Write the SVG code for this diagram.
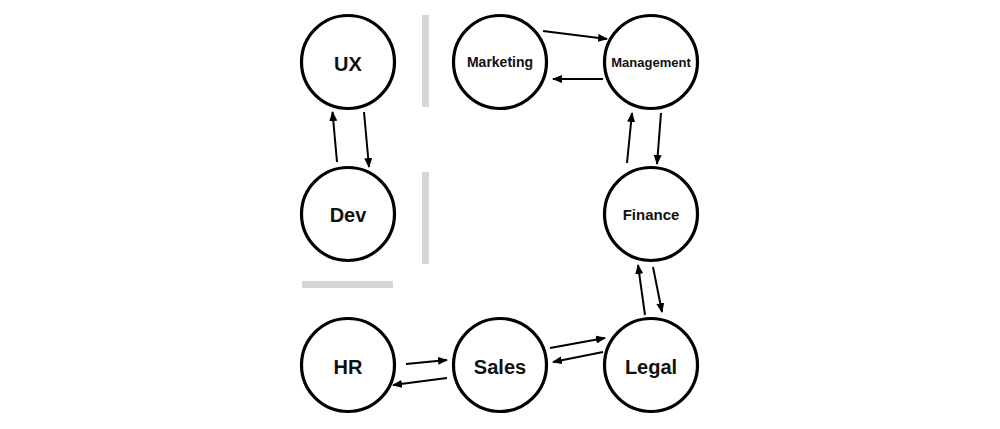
<svg xmlns="http://www.w3.org/2000/svg" width="1000" height="429" viewBox="0 0 1000 429">
<defs>
<style>
.node circle{fill:#fff;stroke:#000;stroke-width:3.2}
.node text{font-family:"Liberation Sans",Arial,sans-serif;font-weight:bold;text-anchor:middle;fill:#111}
.big{font-size:20px}
.small{font-size:14px}
.bar{fill:#d6d6d6}
.edge{stroke:#000;stroke-width:2;fill:none;marker-end:url(#ah)}
</style>
<marker id="ah" markerWidth="10" markerHeight="8" refX="9" refY="4" orient="auto" markerUnits="userSpaceOnUse">
<path d="M0,0 L10,4 L0,8 Z" fill="#000"/>
</marker>
</defs>
<rect width="1000" height="429" fill="#fff"/>
<g id="separators">
<rect class="bar" x="422" y="15" width="7" height="92"/>
<rect class="bar" x="422" y="172" width="7" height="92"/>
<rect class="bar" x="302" y="281" width="91" height="7"/>
</g>
<g id="connectors">
<line class="edge" x1="337" y1="162" x2="332.5" y2="112"/>
<line class="edge" x1="364" y1="112" x2="369" y2="167"/>
<line class="edge" x1="543" y1="31" x2="607" y2="39"/>
<line class="edge" x1="603" y1="79" x2="553" y2="79"/>
<line class="edge" x1="627" y1="163" x2="632" y2="113"/>
<line class="edge" x1="661" y1="113" x2="657" y2="164"/>
<line class="edge" x1="645" y1="315" x2="638" y2="265"/>
<line class="edge" x1="653" y1="267" x2="662" y2="312"/>
<line class="edge" x1="550" y1="348" x2="605" y2="338"/>
<line class="edge" x1="603" y1="352" x2="553" y2="362"/>
<line class="edge" x1="406" y1="364" x2="447" y2="360"/>
<line class="edge" x1="447" y1="378" x2="393" y2="385"/>
</g>
<g id="node-ux" class="node"><circle cx="348" cy="62" r="46.5"/><text class="big" x="348" y="71">UX</text></g>
<g id="node-dev" class="node"><circle cx="348" cy="214" r="46.5"/><text class="big" x="348" y="222">Dev</text></g>
<g id="node-hr" class="node"><circle cx="348" cy="365" r="46.5"/><text class="big" x="348" y="374">HR</text></g>
<g id="node-sales" class="node"><circle cx="500" cy="365" r="46.5"/><text class="big" x="500" y="374">Sales</text></g>
<g id="node-legal" class="node"><circle cx="651" cy="365" r="46.5"/><text class="big" x="651" y="374">Legal</text></g>
<g id="node-finance" class="node"><circle cx="651" cy="214" r="46.5"/><text class="small" x="651" y="220" style="font-size:15px">Finance</text></g>
<g id="node-management" class="node"><circle cx="651" cy="62" r="46.5"/><text class="small" x="651" y="67" style="font-size:13px">Management</text></g>
<g id="node-marketing" class="node"><circle cx="500" cy="62" r="46.5"/><text class="small" x="500" y="67">Marketing</text></g>
</svg>
